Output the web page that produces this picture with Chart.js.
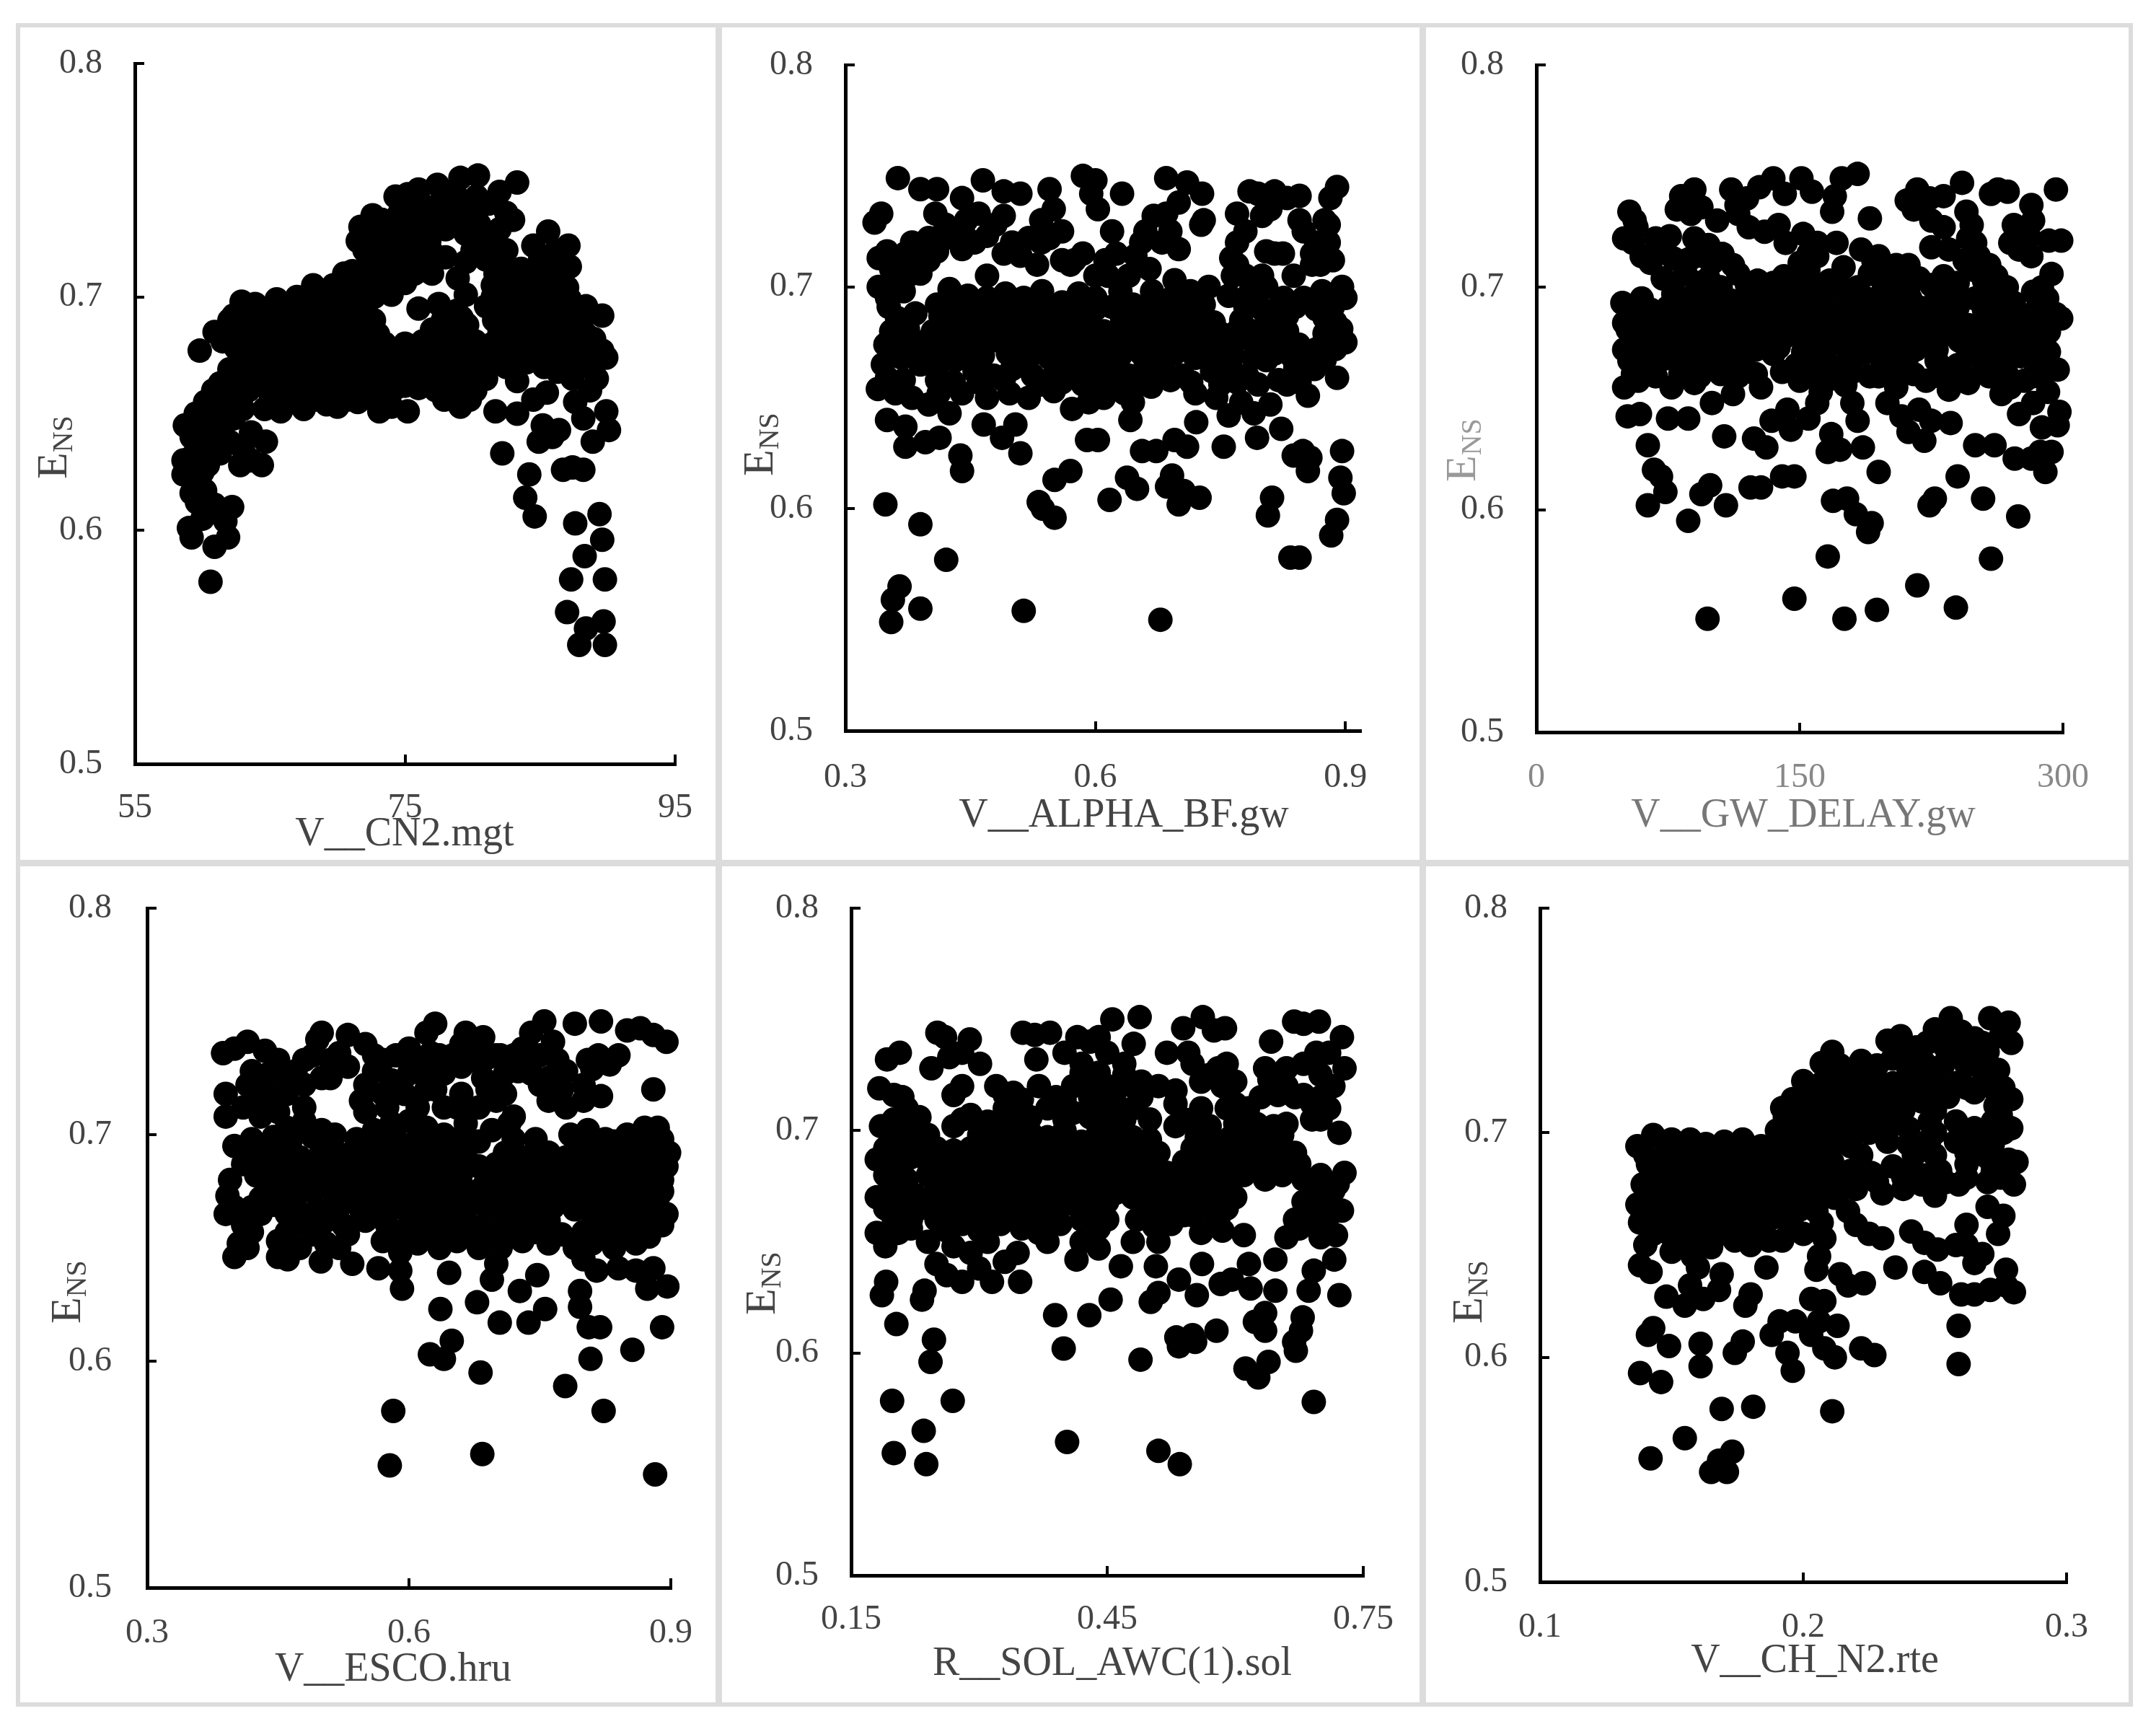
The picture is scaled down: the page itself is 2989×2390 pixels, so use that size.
<!DOCTYPE html>
<html lang="en">
<head>
<meta charset="UTF-8">
<title>ENS parameter scatter</title>
<script src="https://cdn.jsdelivr.net/npm/chart.js@4"></script>
<style>
  html, body { margin: 0; background: #fff; }
  .panel { position: absolute; box-sizing: border-box; border: 6px solid #dcdcdc; background: #fff; }
  canvas { position: absolute; left: 0; top: 0; }
</style>
</head>
<body>
<script>
// values, [parameter, ENS]
const cn2 = [[60.6,.578],[87,.565],[87.9,.551],[89.8,.551],[89.7,.561],[88.4,.558],[87.3,.579],[89.8,.579],[88.3,.589],[89.6,.596],[87.6,.603],[89.4,.607],[84.6,.606],[83.9,.614],[84.2,.624],[82.2,.633],[86.7,.626],[87.4,.627],[88.2,.626],
[60.9,.593],[59.2,.597],[61.9,.597],[59,.601],[60,.605],[61.7,.604],[62.2,.61],[60.9,.611],[59.2,.616],[60.2,.617],[59.6,.612],[58.6,.624],[59.3,.622],[60,.625],[60.4,.628],[58.6,.63],[59.3,.632],[60,.635],[60.7,.637],[61.3,.633],[62,.638],[58.7,.645],[59.2,.64],[59.5,.65],[60.1,.645],[60.8,.648],[61.5,.645],[62.3,.648],[60.2,.655],[60.8,.66],[61.3,.663],[61.8,.655],[62.5,.66],[63,.652],[63.4,.66],[63,.635],[63.6,.642],[64.7,.638],[64.4,.628],[62.8,.628],[63.6,.63],
[64.6,.652],[65.8,.651],[67.5,.652],[69.2,.654],[70,.653],[71.5,.655],[73.1,.651],[74,.653],[75.2,.651],[65,.659],[66.3,.661],[67.7,.658],[69,.661],[70.3,.66],[71.7,.662],[73,.659],[74.3,.661],[77.9,.656],[79.1,.653],[79.8,.656],
[62,.669],[63.2,.666],[64.5,.669],[65.8,.667],[67.2,.67],[68.5,.667],[70,.669],[71.2,.668],[72.5,.666],[73.8,.669],[75,.667],[76.2,.665],[77.4,.666],[78.6,.664],[79.8,.667],[81,.665],
[59.8,.677],[62.5,.678],[63.8,.675],[65.1,.678],[66.4,.676],[67.7,.679],[69,.676],[70.3,.678],[71.6,.675],[72.9,.678],[74.2,.676],[75.5,.674],[76.8,.677],[78,.675],[79.3,.678],[80.6,.676],[81.9,.677],[83.2,.675],[84.5,.678],[85.8,.676],[87,.679],[88.2,.674],[89.6,.677],[89.9,.674],
[60.9,.685],[62,.69],[62.7,.686],[64,.688],[65.3,.685],[66.6,.687],[67.9,.684],[69.2,.688],[70.5,.685],[71.8,.687],[73,.684],[77,.686],[78.3,.685],[79.6,.688],[82,.685],[83.3,.687],[84.6,.684],[85.9,.687],[87.2,.685],[88.4,.684],
[62.9,.698],[63.9,.697],[65.5,.699],[66.8,.695],[68.1,.697],[69.4,.694],[70.7,.696],[72,.695],[76,.695],[77.5,.697],[78.8,.694],[81,.696],[82.3,.694],[83.6,.697],[84.9,.695],[86.2,.696],[87.5,.694],[88.4,.696],[89.6,.692],
[68.2,.705],[69.7,.705],[71,.708],[72.3,.704],[73.6,.707],[75,.706],[78.9,.708],[81.5,.705],[82.8,.707],[84.2,.704],[85.6,.706],[87,.704],
[71.1,.711],[72.3,.716],[73.6,.714],[75,.717],[76.2,.714],[78,.717],[79.5,.715],[81,.716],[82.3,.714],[83.6,.712],[85,.716],[87.2,.713],
[71.7,.73],[71.5,.724],[73,.726],[74.3,.723],[75.6,.726],[76.8,.724],[79.5,.727],[81.1,.724],[82,.729],[85.6,.728],[87.1,.722],[84.5,.722],
[72.6,.735],[73.3,.733],[74.6,.736],[75.9,.734],[77.2,.737],[78.5,.735],[79.8,.734],[82.5,.736],[83,.733],[81.2,.74],
[74.3,.743],[75.2,.744],[76,.746],[77.4,.748],[79.1,.751],[80.4,.752],[82,.745],[83.3,.749],[78.5,.745],
[83.3,.664],[83.3,.65],[84.5,.656],[85.2,.645],[84.9,.638],[85.9,.64],[86.4,.643],[87.6,.655],[88.2,.648],[88.9,.638],[89.9,.651],[90.1,.643],[88.7,.66],[89.2,.665],[87.4,.665],[86.3,.668],[81.7,.651],[85.5,.659]];
const cn2Core = [[66.5,.655],[68.3,.656],[70.7,.656],[72.2,.657],[62.8,.664],[64,.663],[65.5,.664],[66.9,.665],[68.2,.663],[69.6,.664],[71,.665],[72.3,.662],[73.6,.664],[75,.662],[76,.661],[77.3,.66],[78.5,.659],[80.2,.66],
[63,.672],[64.3,.673],[65.6,.671],[66.9,.673],[68.2,.672],[69.5,.673],[70.8,.672],[72.1,.671],[73.4,.673],[74.7,.672],[76,.671],[77.3,.672],[78.6,.671],[79.9,.672],[81.2,.671],[82.5,.67],[84,.672],[85.3,.67],[86.6,.672],[87.9,.67],[89,.671],
[61.5,.681],[63,.682],[64.5,.681],[65.7,.682],[67,.681],[68.3,.682],[69.6,.681],[70.9,.682],[72.2,.681],[73.5,.68],[75,.68],[76.3,.681],[77.6,.68],[78.9,.682],[80.2,.681],[81.5,.68],[82.8,.681],[84.1,.68],[85.4,.681],[86.7,.68],[88,.68],[89,.682],
[62.3,.692],[63.6,.691],[64.9,.692],[66.2,.69],[67.5,.691],[68.8,.69],[70.1,.691],[71.4,.69],[72.7,.69],[77.8,.69],[79.2,.691],[81.6,.69],[82.9,.69],[84.2,.69],[85.5,.691],[86.8,.69],[88,.69],
[67,.7],[68.5,.701],[69.9,.7],[71.3,.701],[72.7,.7],[74,.701],[79.5,.701],[81.5,.7],[83,.701],[84.4,.7],[85.8,.701],[87.2,.699],[88.3,.692],
[70.5,.71],[71.8,.71],[73,.71],[74.4,.711],[75.7,.71],[77,.71],[81.7,.71],[83,.709],[84.3,.71],[85.7,.712],[86.5,.709],
[72,.72],[73.4,.72],[74.7,.72],[76,.72],[77,.719],[80,.72],[82.5,.72],[86.2,.72],[73.8,.73],[75.2,.73],[76.5,.73],[78,.729],[79.2,.73],[80.5,.731],[76.2,.74],[77.7,.741],[79,.742],[80.3,.743],[81.6,.741]];

const alphaBf = [[.348,.602],[.39,.593],[.421,.577],[.365,.565],[.357,.559],[.355,.549],[.39,.555],[.514,.554],[.678,.55],[.834,.578],[.845,.578],[.883,.588],[.89,.595],[.807,.597],[.812,.605],[.898,.607],[.894,.614],[.896,.626],[.855,.617],[.858,.623],[.838,.624],[.849,.626],[.725,.605],[.7,.602],[.706,.608],[.686,.61],[.692,.615],[.65,.609],[.638,.614],[.617,.604],[.551,.596],[.537,.6],[.532,.603],[.551,.613],[.57,.617],[.656,.626],[.673,.626],[.695,.631],[.71,.628],[.59,.631],[.603,.631],[.51,.625],[.438,.624],[.44,.617],[.754,.628],[.794,.632],[.823,.636],[.372,.628],[.396,.63],[.413,.632],[.504,.638],[.466,.638],[.488,.632],[.721,.639],[.642,.64],
[.339,.654],[.36,.652],[.38,.65],[.35,.64],[.372,.637],[.4,.647],[.425,.643],[.412,.652],[.44,.652],[.47,.65],[.497,.652],[.52,.65],[.55,.653],[.572,.645],[.592,.648],[.61,.65],[.635,.652],[.645,.648],[.667,.655],[.72,.652],[.745,.65],[.76,.642],[.775,.648],[.79,.643],[.81,.647],[.83,.656],[.855,.651],[.89,.659],
[.345,.665],[.368,.668],[.39,.665],[.41,.663],[.432,.667],[.455,.662],[.478,.66],[.5,.663],[.525,.66],[.552,.662],[.573,.66],[.595,.665],[.617,.662],[.64,.66],[.66,.664],[.682,.663],[.705,.66],[.74,.662],[.762,.665],[.782,.66],[.805,.667],[.84,.664],[.863,.663],
[.348,.674],[.37,.677],[.392,.675],[.414,.678],[.436,.674],[.458,.677],[.48,.676],[.51,.675],[.535,.673],[.558,.672],[.58,.676],[.602,.673],[.624,.675],[.646,.677],[.668,.675],[.69,.677],[.712,.674],[.734,.676],[.756,.673],[.778,.677],[.8,.673],[.822,.676],[.844,.674],[.866,.672],[.888,.672],[.9,.675],
[.362,.686],[.384,.688],[.414,.687],[.436,.685],[.458,.688],[.48,.684],[.502,.687],[.524,.686],[.545,.684],[.568,.688],[.59,.685],[.632,.686],[.654,.684],[.676,.687],[.698,.685],[.72,.686],[.742,.684],[.775,.685],[.81,.684],[.83,.687],[.875,.686],[.888,.684],
[.34,.7],[.35,.695],[.37,.698],[.39,.706],[.425,.699],[.447,.696],[.47,.695],[.492,.697],[.514,.695],[.536,.698],[.56,.693],[.58,.697],[.6,.695],[.63,.698],[.668,.698],[.692,.695],[.714,.698],[.736,.7],[.76,.696],[.785,.697],[.805,.7],[.826,.695],[.85,.695],[.872,.698],[.896,.7],[.9,.695],
[.34,.713],[.35,.716],[.372,.715],[.385,.709],[.4,.712],[.47,.705],[.57,.71],[.585,.715],[.612,.712],[.625,.715],[.648,.714],[.665,.708],[.695,.703],[.7,.717],[.763,.713],[.78,.705],[.805,.716],[.825,.715],[.838,.705],[.86,.71],[.87,.71],[.88,.72],
[.38,.72],[.4,.722],[.42,.722],[.44,.717],[.43,.725],[.455,.72],[.47,.723],[.5,.72],[.51,.714],[.53,.71],[.545,.722],[.56,.725],[.575,.712],[.62,.725],[.66,.725],[.78,.725],[.77,.72],[.85,.725],[.865,.72],[.88,.728],
[.335,.729],[.343,.733],[.408,.733],[.42,.728],[.445,.73],[.46,.733],[.48,.728],[.49,.732],[.535,.73],[.55,.735],[.67,.732],[.685,.733],[.7,.738],[.73,.73],[.77,.733],[.8,.732],[.81,.735],[.845,.73],
[.363,.749],[.39,.744],[.41,.744],[.44,.74],[.465,.748],[.49,.743],[.51,.742],[.545,.744],[.585,.75],[.6,.748],[.595,.742],[.603,.735],[.632,.742],[.685,.749],[.71,.747],[.728,.742],[.727,.728],[.785,.743],[.815,.743],[.795,.742],[.845,.741],[.83,.74],[.89,.745],[.882,.74]];
const alphaCore = [[.35,.659],[.37,.658],[.41,.658],[.43,.657],[.46,.657],[.49,.658],[.535,.656],[.56,.657],[.585,.656],[.605,.657],[.625,.656],[.65,.657],[.69,.658],[.715,.657],[.75,.656],[.77,.657],[.795,.656],[.82,.658],[.845,.657],
[.355,.669],[.38,.67],[.4,.67],[.42,.671],[.445,.67],[.465,.669],[.495,.67],[.52,.668],[.545,.668],[.565,.667],[.585,.669],[.61,.668],[.63,.669],[.655,.67],[.675,.669],[.695,.67],[.72,.668],[.745,.669],[.765,.669],[.79,.668],[.815,.67],[.835,.669],[.855,.668],[.875,.667],
[.355,.68],[.375,.681],[.405,.68],[.425,.681],[.445,.68],[.47,.681],[.49,.68],[.515,.68],[.54,.679],[.565,.68],[.585,.68],[.61,.68],[.63,.68],[.66,.68],[.68,.681],[.7,.68],[.725,.68],[.75,.679],[.77,.68],[.79,.68],[.81,.678],[.83,.68],[.875,.679],[.895,.681],
[.352,.691],[.41,.692],[.43,.691],[.45,.692],[.475,.69],[.5,.691],[.525,.69],[.55,.69],[.575,.691],[.6,.69],[.62,.691],[.645,.692],[.665,.69],[.685,.691],[.71,.69],[.73,.692],[.78,.691],[.8,.69],[.82,.691],[.84,.691],[.865,.69],[.885,.691],
[.355,.708],[.36,.703],[.375,.705],[.395,.718],[.41,.716],[.445,.722],[.49,.715],[.52,.722],[.535,.72],[.56,.712],[.6,.705],[.615,.705],[.64,.705],[.655,.72],[.68,.72],[.69,.725],[.77,.71],[.765,.705],[.8,.705],[.815,.715],[.875,.73],[.86,.715],[.885,.712]];

const gwDelay = [[97.5,.551],[147,.56],[175.5,.551],[194,.555],[217,.566],[239,.556],[259,.578],[166,.579],[274.5,.597],[254.5,.605],[240,.615],[227,.605],[224,.602],[189,.59],[191,.594],[182,.598],[177,.605],[169,.604],[195,.617],[186,.628],[86.5,.595],[108,.602],[94,.607],[99,.611],[63.5,.602],[73.5,.608],[71,.615],[67,.618],[63.5,.629],[122,.61],[128,.61],[140,.615],[147,.615],[107,.633],[124,.632],[131,.628],[134,.64],[75,.641],[86.5,.641],[52,.642],[59,.643],[166,.626],[173,.627],[250,.629],[261,.629],[272.5,.623],[282,.623],[290,.617],[293.5,.626],[287,.626],[236,.639],[221,.631],[212,.635],[275,.643],[288,.637],[297,.638],[298,.644],[291.5,.653],[297,.663],
[145,.636],[155,.641],[143,.645],[160,.648],[168,.634],[183,.64],[180,.648],[176,.656],[200,.648],[208,.642],[218,.645],[225,.64],[265,.652],[283,.648],[278,.658],
[50,.655],[58,.658],[68,.66],[77,.655],[90,.657],[100,.648],[112,.652],[128,.655],[150,.658],[162,.653],[190,.66],[205,.655],[222,.658],[235,.654],[246,.657],[258,.66],[270,.655],[290,.662],
[53,.667],[63,.669],[73,.668],[85,.668],[96,.664],[108,.668],[118,.665],[135,.67],[148,.665],[160,.666],[172,.664],[186,.67],[197,.667],[211,.668],[228,.667],[240,.665],[252,.669],[264,.667],[276,.669],[286,.668],
[55,.675],[65,.678],[76,.677],[87,.677],[98,.678],[109,.675],[120,.678],[131,.674],[142,.678],[153,.675],[164,.678],[175,.676],[186,.679],[197,.676],[208,.678],[219,.675],[230,.678],[241,.676],[252,.679],[263,.676],[274,.678],[285,.676],
[50,.684],[60,.686],[70,.686],[81,.687],[92,.685],[103,.687],[114,.685],[125,.688],[136,.686],[147,.687],[158,.685],[169,.688],[180,.686],[191,.688],[202,.685],[213,.686],[224,.688],[235,.685],[246,.683],[268,.686],[279,.684],[290,.682],[299,.686],
[49,.693],[60,.695],[78,.697],[89,.696],[100,.697],[111,.694],[122,.695],[133,.697],[144,.695],[155,.697],[166,.698],[177,.694],[188,.695],[202,.697],[213,.695],[228,.696],[239,.697],[250,.695],[261,.697],[272,.693],[283,.698],[291,.695],
[72,.704],[85,.706],[98,.704],[115,.706],[126,.703],[141,.705],[155,.708],[167,.703],[175,.709],[190,.706],[205,.703],[218,.704],[232,.705],[248,.708],[262,.705],[293.5,.706],
[55,.72],[60,.714],[65,.711],[72,.717],[78,.713],[88,.713],[100,.711],[106,.715],[150,.711],[160,.714],[192,.712],[198,.71],[244,.712],[252,.714],[275,.717],[282,.714],
[50,.722],[57,.727],[68,.722],[76,.723],[90,.722],[98,.719],[152,.724],[160,.72],[171,.72],[185,.717],[225,.718],[235,.717],[246,.722],[270,.72],[280,.722],[292,.721],[299,.721],
[53,.734],[56,.73],[80,.735],[94,.736],[88,.733],[103,.73],[115,.733],[121,.727],[130,.725],[138,.728],[142,.72],[168.5,.734],[190,.731],[215,.735],[225,.73],[232,.727],[245,.734],[248,.728],[272,.728],[283,.73],[280,.725],
[82.5,.741],[90,.744],[111,.744],[127,.745],[135,.749],[141.5,.742],[151,.749],[157,.743],[174,.749],[183,.751],[170,.741],[114,.737],[120,.74],[211,.739],[217,.744],[232,.741],[224,.74],[242.5,.747],[259,.742],[263,.744],[268.5,.743],[282,.737],[296,.744]];
const gwCore = [[55,.661],[64,.662],[82,.661],[93,.66],[105,.661],[115,.66],[125,.661],[140,.662],[155,.66],[168,.659],[180,.662],[195,.66],[205,.662],[215,.661],[230,.66],[243,.661],[255,.662],[268,.661],[283,.66],
[50,.672],[60,.673],[69,.672],[80,.673],[90,.672],[102,.672],[113,.671],[125,.672],[138,.673],[152,.671],[165,.672],[178,.671],[191,.673],[204,.672],[216,.672],[228,.672],[246,.671],[258,.673],[270,.672],[282,.672],[292,.671],
[52,.681],[60,.68],[71,.681],[82,.682],[93,.681],[104,.681],[115,.68],[126,.681],[137,.682],[148,.681],[159,.681],[170,.682],[181,.68],[192,.682],[203,.681],[214,.681],[225,.682],[236,.68],[250,.681],[258,.682],[270,.681],[281,.68],[292,.68],
[56,.69],[65,.69],[75,.691],[86,.69],[97,.691],[108,.69],[119,.69],[130,.691],[141,.69],[152,.691],[163,.69],[174,.689],[185,.69],[196,.691],[207,.69],[218,.691],[229,.69],[240,.691],[255,.69],[262,.689],[273,.688],[285,.69],[296,.688],
[78,.702],[92,.702],[105,.7],[120,.701],[135,.702],[148,.701],[160,.7],[172,.702],[183,.7],[198,.701],[212,.7],[225,.701],[240,.702],[255,.703],[268,.7],[288,.7],[85,.712],[95,.714],[112,.71],[155,.715],[195,.714],[205,.71],[212,.71],[250,.72],[258,.71]];

const esco = [[.578,.554],[.582,.578],[.684,.559],[.882,.55],[.823,.578],[.779,.589],[.808,.601],[.856,.605],[.682,.595],[.64,.601],[.624,.603],[.649,.609],[.636,.623],[.678,.626],[.704,.617],[.737,.617],[.756,.623],[.727,.631],[.747,.638],[.695,.636],[.646,.639],[.592,.632],[.796,.631],[.796,.624],[.806,.615],[.819,.615],[.89,.615],[.896,.633],[.873,.632],[.565,.641],[.535,.643],[.499,.644],[.461,.645],[.45,.646],[.4,.646],[.59,.64],[.7,.643],[.8,.645],[.815,.64],[.84,.641],[.86,.64],[.88,.641],
[.405,.652],[.415,.65],[.45,.653],[.475,.65],[.505,.652],[.52,.65],[.57,.653],[.59,.648],[.61,.652],[.635,.65],[.655,.653],[.68,.65],[.705,.65],[.73,.653],[.76,.652],[.79,.65],[.81,.652],[.835,.65],[.86,.652],[.875,.655],
[.39,.665],[.41,.66],[.43,.665],[.46,.665],[.48,.66],[.505,.662],[.525,.66],[.55,.662],[.575,.66],[.6,.66],[.62,.663],[.64,.66],[.66,.663],[.685,.66],[.71,.662],[.735,.66],[.76,.662],[.81,.66],[.83,.663],[.85,.66],[.87,.66],[.895,.665],
[.392,.673],[.395,.68],[.43,.672],[.45,.675],[.47,.672],[.49,.675],[.515,.67],[.535,.672],[.56,.675],[.58,.67],[.605,.673],[.63,.67],[.65,.672],[.675,.67],[.7,.672],[.725,.67],[.75,.673],[.775,.671],[.8,.672],[.82,.67],[.845,.672],[.865,.673],[.885,.672],
[.425,.682],[.445,.684],[.465,.681],[.485,.683],[.51,.681],[.535,.684],[.555,.68],[.58,.683],[.62,.682],[.64,.68],[.66,.683],[.69,.681],[.715,.682],[.74,.681],[.77,.682],[.79,.68],[.81,.683],[.83,.681],[.85,.683],[.87,.68],[.89,.68],
[.4,.695],[.415,.692],[.435,.695],[.455,.693],[.475,.69],[.5,.693],[.525,.691],[.55,.693],[.57,.691],[.595,.693],[.615,.69],[.64,.692],[.665,.69],[.71,.692],[.735,.69],[.76,.692],[.78,.69],[.8,.692],[.825,.69],[.845,.692],[.865,.69],[.885,.691],[.898,.692],
[.39,.708],[.43,.708],[.46,.703],[.48,.706],[.5,.702],[.515,.7],[.56,.702],[.58,.705],[.6,.706],[.62,.703],[.64,.7],[.665,.705],[.695,.702],[.715,.705],[.785,.7],[.805,.702],[.825,.698],[.85,.7],[.87,.703],[.885,.703],
[.39,.718],[.425,.72],[.44,.715],[.46,.718],[.545,.715],[.57,.718],[.595,.718],[.63,.72],[.655,.712],[.68,.712],[.7,.715],[.72,.708],[.76,.715],[.78,.712],[.8,.715],[.82,.717],[.88,.72],
[.42,.728],[.44,.727],[.47,.728],[.5,.725],[.53,.73],[.56,.728],[.62,.728],[.64,.727],[.685,.725],[.71,.727],[.74,.727],[.76,.725],[.765,.72],[.81,.729],
[.387,.736],[.4,.738],[.415,.741],[.435,.737],[.49,.735],[.51,.733],[.57,.733],[.6,.738],[.635,.735],[.66,.74],[.69,.734],[.72,.735],[.75,.735],[.805,.733],[.83,.731],
[.495,.742],[.5,.745],[.53,.744],[.55,.74],[.62,.745],[.63,.749],[.665,.745],[.685,.743],[.74,.745],[.755,.75],[.765,.741],[.79,.749],[.82,.75],[.85,.746],[.865,.747],[.88,.744],[.895,.741],[.84,.735],[.817,.735]];
const escoCore = [[.42,.657],[.46,.657],[.49,.656],[.53,.656],[.58,.657],[.6,.656],[.625,.657],[.65,.658],[.67,.657],[.695,.656],[.72,.657],[.745,.657],[.775,.656],[.8,.657],[.825,.656],[.85,.657],[.87,.656],[.89,.66],
[.4,.668],[.42,.668],[.445,.669],[.47,.668],[.495,.667],[.52,.668],[.545,.667],[.565,.667],[.59,.668],[.615,.667],[.64,.668],[.665,.667],[.69,.668],[.715,.667],[.74,.667],[.765,.668],[.79,.667],[.815,.667],[.84,.667],[.86,.667],[.88,.667],
[.44,.677],[.46,.678],[.48,.678],[.505,.677],[.525,.678],[.55,.677],[.57,.677],[.595,.678],[.615,.677],[.64,.677],[.66,.678],[.685,.677],[.71,.677],[.735,.678],[.76,.677],[.785,.677],[.805,.677],[.825,.677],[.85,.677],[.87,.677],[.89,.675],
[.41,.687],[.435,.688],[.455,.687],[.48,.688],[.5,.687],[.525,.687],[.545,.688],[.57,.687],[.59,.687],[.61,.686],[.635,.687],[.655,.687],[.68,.686],[.7,.687],[.725,.687],[.75,.686],[.77,.687],[.795,.687],[.815,.687],[.84,.687],[.86,.686],[.88,.685],[.895,.686],
[.42,.698],[.445,.699],[.465,.698],[.49,.699],[.51,.698],[.54,.698],[.565,.697],[.585,.698],[.61,.698],[.63,.697],[.655,.698],[.68,.697],[.72,.698],[.745,.698],[.795,.697],[.815,.697],[.835,.697],[.86,.697],[.875,.697],[.89,.698],
[.41,.712],[.43,.714],[.45,.71],[.48,.712],[.55,.71],[.575,.712],[.61,.712],[.64,.712],[.66,.718],[.69,.72],[.71,.718],[.75,.722],[.775,.72],[.8,.722],
[.415,.722],[.435,.72],[.455,.726],[.48,.722],[.51,.725],[.55,.722],[.58,.724],[.6,.727],[.62,.72],[.66,.73],[.68,.732],[.7,.735],[.725,.728],[.745,.735],[.78,.728],[.45,.733],[.48,.733],[.52,.736],[.56,.735],[.585,.735],[.605,.732],[.625,.736],[.65,.735],[.675,.738],[.705,.735],[.73,.738],[.77,.733]];

const solAwc = [[.198,.5785],[.269,.5785],[.235,.565],[.2,.555],[.238,.55],[.403,.56],[.51,.556],[.535,.55],[.692,.578],[.399,.602],[.489,.597],[.612,.593],[.627,.589],[.639,.596],[.671,.601],[.669,.605],[.677,.61],[.679,.616],[.534,.603],[.531,.607],[.553,.605],[.55,.608],[.578,.61],[.635,.61],[.623,.614],[.635,.618],[.243,.596],[.247,.606],[.203,.613],[.186,.626],[.191,.632],[.233,.624],[.236,.628],[.389,.617],[.429,.617],[.454,.624],[.501,.623],[.51,.627],[.555,.626],[.534,.633],[.561,.64],[.348,.632],[.583,.631],[.596,.633],[.616,.64],[.618,.629],[.647,.628],[.647,.642],[.686,.628],[.692,.637],[.722,.626],[.716,.642],[.466,.639],[.507,.639],[.414,.642],
[.25,.64],[.262,.635],[.28,.632],[.3,.638],[.315,.632],[.33,.641],[.345,.645],[.27,.648],[.29,.645],[.31,.65],[.38,.65],[.42,.65],[.44,.647],[.48,.65],[.51,.65],[.56,.654],[.585,.655],[.61,.653],[.66,.652],[.675,.656],[.7,.652],[.718,.653],
[.18,.654],[.19,.648],[.205,.654],[.22,.656],[.24,.65],[.262,.655],[.28,.658],[.3,.655],[.325,.658],[.35,.656],[.37,.654],[.395,.658],[.44,.656],[.485,.66],[.505,.657],[.525,.658],[.55,.662],[.58,.66],[.59,.665],[.67,.66],[.69,.66],[.71,.662],
[.19,.665],[.21,.663],[.23,.665],[.27,.664],[.29,.667],[.31,.664],[.33,.667],[.35,.664],[.37,.667],[.39,.665],[.41,.667],[.43,.664],[.45,.668],[.48,.67],[.5,.667],[.525,.67],[.55,.667],[.57,.669],[.6,.67],[.68,.668],[.7,.67],[.725,.664],
[.2,.675],[.215,.678],[.25,.675],[.27,.673],[.29,.677],[.31,.674],[.33,.677],[.35,.675],[.37,.678],[.39,.675],[.41,.677],[.43,.674],[.45,.677],[.47,.679],[.49,.676],[.51,.678],[.53,.674],[.55,.677],[.57,.675],[.59,.677],[.61,.68],[.635,.678],[.655,.68],[.7,.68],[.715,.673],
[.18,.687],[.2,.685],[.22,.688],[.24,.686],[.26,.684],[.28,.687],[.3,.685],[.32,.688],[.34,.686],[.36,.684],[.38,.687],[.4,.685],[.42,.688],[.44,.686],[.46,.684],[.48,.687],[.5,.685],[.54,.686],[.56,.688],[.58,.685],[.6,.688],[.62,.69],[.64,.686],[.66,.688],[.675,.685],[.728,.681],
[.185,.702],[.2,.697],[.215,.7],[.24,.698],[.27,.702],[.3,.698],[.32,.7],[.34,.697],[.36,.699],[.38,.697],[.4,.7],[.42,.695],[.44,.7],[.46,.698],[.48,.697],[.5,.696],[.53,.702],[.555,.697],[.575,.696],[.595,.697],[.615,.698],[.635,.697],[.655,.698],[.722,.699],[.7,.705],
[.215,.71],[.28,.705],[.31,.704],[.33,.71],[.38,.71],[.41,.708],[.44,.71],[.46,.712],[.48,.71],[.54,.705],[.56,.71],[.57,.702],[.59,.71],[.615,.71],[.66,.703],[.69,.705],[.71,.71],
[.183,.719],[.2,.716],[.27,.716],[.28,.72],[.32,.72],[.34,.717],[.37,.72],[.39,.715],[.41,.72],[.43,.718],[.45,.72],[.48,.72],[.51,.72],[.53,.718],[.55,.73],[.57,.725],[.585,.72],[.63,.715],[.64,.723],[.66,.72],[.68,.716],[.7,.715],[.715,.72],
[.192,.732],[.207,.735],[.244,.728],[.265,.733],[.28,.735],[.301,.73],[.367,.732],[.4,.735],[.42,.73],[.45,.735],[.47,.73],[.49,.722],[.52,.735],[.545,.735],[.58,.728],[.59,.73],[.635,.728],[.66,.728],[.68,.73],[.695,.735],[.728,.728],
[.251,.744],[.26,.742],[.289,.741],[.351,.744],[.365,.743],[.383,.744],[.415,.742],[.43,.74],[.44,.742],[.456,.75],[.481,.739],[.488,.751],[.539,.746],[.562,.751],[.575,.745],[.588,.746],[.642,.74],[.669,.749],[.68,.748],[.698,.749],[.725,.742],[.71,.735]];
const awcCore = [[.2,.66],[.22,.66],[.25,.66],[.29,.66],[.31,.66],[.33,.661],[.35,.66],[.37,.66],[.39,.66],[.42,.66],[.45,.66],[.52,.664],[.54,.662],[.57,.664],[.68,.66],[.7,.662],
[.18,.67],[.205,.67],[.225,.671],[.25,.668],[.28,.67],[.3,.67],[.32,.671],[.34,.67],[.36,.671],[.38,.67],[.4,.671],[.42,.67],[.44,.67],[.46,.672],[.49,.671],[.51,.672],[.54,.672],[.56,.672],[.58,.671],[.69,.67],[.71,.668],
[.19,.68],[.21,.68],[.24,.68],[.26,.68],[.28,.681],[.3,.68],[.32,.681],[.34,.68],[.36,.681],[.38,.68],[.4,.681],[.42,.68],[.44,.681],[.46,.68],[.48,.681],[.5,.68],[.52,.681],[.54,.68],[.56,.681],[.58,.68],[.6,.682],[.62,.684],[.645,.684],[.68,.678],[.72,.676],
[.19,.692],[.21,.691],[.23,.692],[.25,.692],[.27,.691],[.29,.692],[.31,.691],[.33,.692],[.35,.691],[.37,.692],[.39,.691],[.41,.692],[.43,.691],[.45,.692],[.47,.691],[.49,.691],[.51,.69],[.55,.692],[.57,.691],[.59,.692],[.61,.692],[.63,.692],[.65,.692],[.67,.69],
[.2,.705],[.23,.706],[.29,.707],[.34,.705],[.36,.706],[.4,.705],[.43,.706],[.45,.705],[.47,.705],[.5,.705],[.55,.705],[.6,.703],[.625,.703],[.645,.702],
[.21,.715],[.33,.716],[.35,.714],[.4,.714],[.43,.715],[.46,.718],[.49,.715],[.53,.712],[.6,.712],[.65,.716],[.67,.715],[.69,.712],[.42,.726],[.44,.726],[.47,.725],[.56,.722],[.6,.722],[.65,.724],[.7,.725]];

const chN2 = [[.142,.555],[.155,.564],[.165,.549],[.171,.549],[.168,.554],[.173,.558],[.169,.577],[.181,.578],[.211,.576],[.259,.597],[.259,.614],[.138,.593],[.146,.589],[.161,.596],[.161,.606],[.149,.605],[.141,.61],[.143,.613],[.174,.602],[.177,.607],[.188,.61],[.194,.602],[.196,.594],[.191,.616],[.197,.616],[.203,.61],[.206,.616],[.213,.614],[.208,.604],[.212,.6],[.222,.604],[.227,.601],[.178,.623],[.18,.628],[.203,.626],[.208,.625],[.148,.627],[.155,.623],[.162,.626],[.168,.63],[.157,.632],[.169,.637],[.186,.64],[.142,.638],[.138,.641],[.235,.64],[.16,.64],
[.26,.628],[.265,.628],[.271,.63],[.277,.632],[.28,.629],[.277,.639],[.252,.633],[.246,.638],[.223,.633],[.217,.632],[.214,.637],[.205,.639],[.241,.656],[.246,.651],[.251,.648],[.258,.65],[.265,.642],[.268,.646],[.262,.659],[.27,.667],[.276,.663],[.274,.655],[.23,.653],[.225,.655],[.22,.659],[.217,.665],[.206,.645],[.208,.653],[.2,.655],[.207,.66],[.262,.65],
[.14,.65],[.15,.647],[.158,.645],[.165,.649],[.174,.652],[.18,.65],[.187,.652],[.195,.657],
[.138,.66],[.146,.658],[.153,.655],[.16,.657],[.167,.66],[.174,.659],[.181,.658],[.188,.662],[.196,.663],
[.137,.668],[.145,.667],[.152,.666],[.159,.669],[.166,.667],[.173,.668],[.18,.667],[.187,.669],[.194,.67],[.202,.671],[.212,.671],
[.139,.677],[.146,.675],[.153,.678],[.16,.676],[.167,.678],[.174,.675],[.181,.677],[.188,.675],[.195,.678],[.202,.678],[.209,.676],[.222,.68],[.23,.673],[.238,.675],[.245,.677],[.25,.672],[.259,.677],[.27,.678],[.28,.677],
[.141,.686],[.148,.684],[.155,.687],[.162,.685],[.169,.687],[.176,.684],[.183,.686],[.19,.684],[.197,.687],[.204,.685],[.211,.687],[.218,.683],[.226,.682],[.234,.685],[.241,.683],[.252,.683],[.262,.686],[.272,.683],[.281,.687],
[.137,.694],[.143,.699],[.15,.697],[.157,.697],[.163,.695],[.17,.696],[.177,.697],[.184,.694],[.19,.697],[.197,.695],[.204,.697],[.211,.695],[.218,.694],[.232,.696],[.24,.695],[.248,.697],[.258,.696],[.265,.694],[.272,.695],
[.193,.707],[.2,.705],[.207,.708],[.214,.705],[.221,.707],[.228,.705],[.235,.707],[.248,.705],[.258,.705],[.265,.702],[.279,.702],[.275,.708],
[.196,.715],[.204,.716],[.211,.712],[.218,.716],[.225,.713],[.232,.716],[.238,.71],[.245,.714],[.251,.716],[.273,.712],[.279,.715],
[.2,.723],[.207,.722],[.213,.725],[.22,.725],[.227,.722],[.234,.722],[.242,.723],[.25,.72],[.258,.722],[.265,.718],[.272,.72],
[.207,.731],[.214,.73],[.222,.732],[.228,.73],[.234,.733],[.246,.731],[.253,.73],[.262,.73],[.268,.728],[.274,.728],
[.211,.736],[.232,.741],[.237,.743],[.243,.738],[.25,.746],[.256,.751],[.26,.745],[.254,.738],[.265,.742],[.271,.751],[.278,.749],[.279,.74],[.27,.736]];
const chCore = [[.143,.655],[.15,.654],[.157,.651],[.164,.654],[.171,.655],[.178,.654],[.185,.656],[.192,.652],
[.142,.663],[.149,.663],[.156,.662],[.163,.664],[.17,.663],[.177,.664],[.184,.664],[.191,.665],[.199,.666],[.205,.665],
[.141,.672],[.148,.672],[.155,.672],[.162,.673],[.169,.672],[.176,.672],[.183,.672],[.19,.673],[.197,.674],[.205,.674],[.215,.675],
[.143,.681],[.15,.681],[.157,.682],[.164,.681],[.171,.682],[.178,.681],[.185,.681],[.192,.68],[.199,.682],[.206,.681],[.213,.681],[.22,.675],[.228,.678],[.238,.68],[.246,.681],[.254,.678],[.262,.68],[.275,.68],
[.14,.69],[.147,.69],[.154,.691],[.161,.69],[.168,.691],[.175,.69],[.182,.691],[.189,.69],[.196,.691],[.203,.691],[.21,.69],[.222,.69],[.242,.69],[.25,.69],[.262,.691],[.27,.689],[.278,.688],
[.19,.701],[.197,.7],[.204,.701],[.211,.7],[.218,.701],[.225,.7],[.232,.701],[.24,.702],[.25,.7],[.26,.7],[.268,.7],[.276,.7],
[.192,.711],[.2,.71],[.208,.71],[.215,.71],[.222,.71],[.23,.71],[.25,.71],[.272,.705],
[.21,.718],[.217,.72],[.224,.718],[.23,.72],[.238,.718],[.245,.72],[.255,.716],[.262,.72],[.27,.725],[.276,.72],
[.218,.728],[.226,.727],[.24,.728],[.25,.727],[.258,.735],[.265,.735],[.24,.735],[.247,.74],[.254,.745],[.262,.74],[.268,.74],[.275,.743]];

const yTicks = [0.5, 0.6, 0.7, 0.8];
const cn2Ticks = [55, 75, 95];
const alphaTicks = [0.3, 0.6, 0.9];
const gwTicks = [0, 150, 300];
const escoTicks = [0.3, 0.6, 0.9];
const awcTicks = [0.15, 0.45, 0.75];
const chTicks = [0.1, 0.2, 0.3];

// page layout in px. box = left, top, right, bottom of the frame; axis = left, top, right, bottom of the plot
const panels = [
  { data: cn2.concat(cn2Core), ticks: cn2Ticks, xMax: 95, title: 'V__CN2.mgt', box: [22, 32, 998, 1198], axis: [187, 88, 936, 1059], xPad: 46, yPad: 58, titleAt: [561, 1157], ensAt: [72, 620], tickCol: '#444', titleCol: '#444', ensCol: '#444' },
  { data: alphaBf.concat(alphaCore), ticks: alphaTicks, xMax: 0.918, title: 'V__ALPHA_BF.gw', box: [995, 32, 1974, 1198], axis: [1172, 90, 1886, 1013], xPad: 50, yPad: 58, titleAt: [1558, 1131], ensAt: [1051, 616], tickCol: '#444', titleCol: '#444', ensCol: '#444' },
  { data: gwDelay.concat(gwCore), ticks: gwTicks, xMax: 300, title: 'V__GW_DELAY.gw', box: [1971, 32, 2957, 1198], axis: [2130, 90, 2860, 1015], xPad: 48, yPad: 58, titleAt: [2500, 1131], ensAt: [2025, 624], tickCol: '#444', xTickCol: '#888', titleCol: '#777', ensCol: '#999' },
  { data: esco.concat(escoCore), ticks: escoTicks, xMax: 0.9, title: 'V__ESCO.hru', box: [22, 1195, 998, 2366], axis: [204, 1259, 930, 2201], xPad: 48, yPad: 62, titleAt: [545, 2315], ensAt: [91, 1791], tickCol: '#444', titleCol: '#444', ensCol: '#444' },
  { data: solAwc.concat(awcCore), ticks: awcTicks, xMax: 0.75, title: 'R__SOL_AWC(1).sol', box: [995, 1195, 1974, 2366], axis: [1180, 1259, 1890, 2184], xPad: 46, yPad: 58, titleAt: [1542, 2307], ensAt: [1054, 1779], tickCol: '#444', titleCol: '#444', ensCol: '#444' },
  { data: chN2.concat(chCore), ticks: chTicks, xMax: 0.3, title: 'V__CH_N2.rte', box: [1971, 1195, 2957, 2366], axis: [2135, 1259, 2865, 2193], xPad: 48, yPad: 58, titleAt: [2516, 2303], ensAt: [2034, 1791], tickCol: '#444', titleCol: '#444', ensCol: '#444' }
];

const FONT = '"Liberation Serif", serif';

// x title and the ENS label with its subscript, drawn where the original has them
const axisText = {
  id: 'axisText',
  afterDraw(chart, args, o) {
    const c = chart.ctx, p = o.panel, l = p.box[0], t = p.box[1];
    c.save();
    c.fillStyle = p.titleCol;
    c.font = '56px ' + FONT;
    c.textAlign = 'center';
    c.textBaseline = 'middle';
    c.fillText(p.title, p.titleAt[0] - l, p.titleAt[1] - t);
    c.translate(p.ensAt[0] - l, p.ensAt[1] - t);
    c.rotate(-Math.PI / 2);
    c.fillStyle = p.ensCol;
    c.textAlign = 'left';
    c.textBaseline = 'alphabetic';
    c.font = '60px ' + FONT;
    c.fillText('E', -44, 20);
    const w = c.measureText('E').width;
    c.font = '40px ' + FONT;
    c.fillText('NS', -44 + w, 28);
    c.restore();
  }
};

panels.forEach(p => {
  const [bl, bt, br, bb] = p.box;
  const [al, at, ar, ab] = p.axis;
  const div = document.createElement('div');
  div.className = 'panel';
  div.style.cssText = `left:${bl}px;top:${bt}px;width:${br - bl}px;height:${bb - bt}px`;
  document.body.appendChild(div);
  const cv = document.createElement('canvas');
  cv.width = br - bl;
  cv.height = bb - bt;
  cv.style.left = '-6px';
  cv.style.top = '-6px';
  div.appendChild(cv);

  new Chart(cv, {
    type: 'scatter',
    data: { datasets: [{ data: p.data.map(d => ({ x: d[0], y: d[1] })), backgroundColor: '#000', borderWidth: 0, pointRadius: 17, pointHoverRadius: 17, clip: false }] },
    plugins: [axisText],
    options: {
      responsive: false,
      animation: false,
      devicePixelRatio: 1,
      layout: { padding: { left: 0, bottom: 0, top: at - bt, right: br - ar } },
      plugins: { legend: { display: false }, tooltip: { enabled: false }, axisText: { panel: p } },
      scales: {
        x: {
          type: 'linear', min: p.ticks[0], max: p.xMax,
          border: { color: '#000', width: 5 },
          grid: { drawOnChartArea: false, color: '#000', lineWidth: 4, tickLength: -13 },
          ticks: { padding: p.xPad, color: p.xTickCol || p.tickCol, font: { family: FONT, size: 48 }, maxRotation: 0, autoSkip: false, callback: v => String(v) },
          afterBuildTicks: s => { s.ticks = p.ticks.map(v => ({ value: v })); },
          afterFit: s => { s.height = bb - ab; s.paddingLeft = 0; s.paddingRight = 0; }
        },
        y: {
          type: 'linear', min: 0.5, max: 0.8,
          border: { color: '#000', width: 5 },
          grid: { drawOnChartArea: false, color: '#000', lineWidth: 4, tickLength: -13 },
          ticks: { padding: p.yPad, color: p.tickCol, font: { family: FONT, size: 48 }, callback: v => v.toFixed(1) },
          afterBuildTicks: s => { s.ticks = yTicks.map(v => ({ value: v })); },
          afterFit: s => { s.width = al - bl; s.paddingTop = 0; s.paddingBottom = 0; }
        }
      }
    }
  });
});
</script>
</body>
</html>
